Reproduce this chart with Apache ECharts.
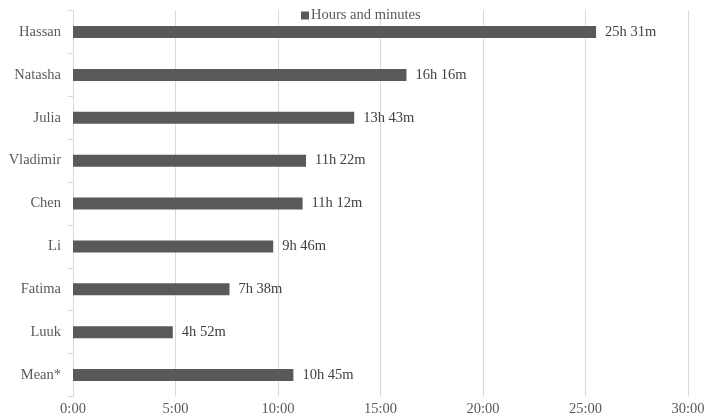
<!DOCTYPE html>
<html><head><meta charset="utf-8">
<script src="https://cdn.jsdelivr.net/npm/echarts@6/dist/echarts.min.js"></script>
<style>html,body{margin:0;padding:0;background:#fff}#c{width:708px;height:420px}</style>
</head><body><div id="c"></div>
<script>
const categories = ["Hassan","Natasha","Julia","Vladimir","Chen","Li","Fatima","Luuk","Mean*"];
const hours = [25,16,13,11,11,9,7,4,10];
const minutes = [31,16,43,22,12,46,38,52,45];
const xTickHours = [0,5,10,15,20,25,30];
const seriesName = "Hours and minutes";

const totalMinutes = hours.map((h,i)=>h*60+minutes[i]);
const font = "Liberation Serif";
const fs = 14.5;
const chart = echarts.init(document.getElementById('c'));
chart.setOption({
  animation:false,
  textStyle:{fontFamily:font},
  legend:{top:3,left:296,itemWidth:8,itemHeight:8,itemGap:4,icon:'rect',
    textStyle:{fontFamily:font,fontSize:fs,color:'#595959',padding:[0,0,0,-3]},
    data:[seriesName]},
  grid:{left:73,right:20,top:10.6,bottom:23.5,containLabel:false},
  xAxis:{type:'value',min:0,max:xTickHours[xTickHours.length-1]*60,interval:300,
    axisLine:{show:false},axisTick:{show:false},
    splitLine:{lineStyle:{color:'#d9d9d9',width:1}},
    axisLabel:{fontFamily:font,fontSize:fs,color:'#595959',margin:5,
      formatter:v=>(v/60)+':00'}},
  yAxis:{type:'category',inverse:true,data:categories,
    axisLine:{lineStyle:{color:'#d9d9d9'}},
    axisTick:{show:true,length:5,lineStyle:{color:'#d9d9d9'}},
    axisLabel:{fontFamily:font,fontSize:fs,color:'#595959',margin:12}},
  series:[{name:seriesName,type:'bar',barWidth:12,data:totalMinutes,
    itemStyle:{color:'#595959'},
    label:{show:true,position:'right',distance:9,fontFamily:font,fontSize:fs,color:'#404040',
      formatter:p=>hours[p.dataIndex]+'h '+minutes[p.dataIndex]+'m'}}]
});
</script></body></html>
